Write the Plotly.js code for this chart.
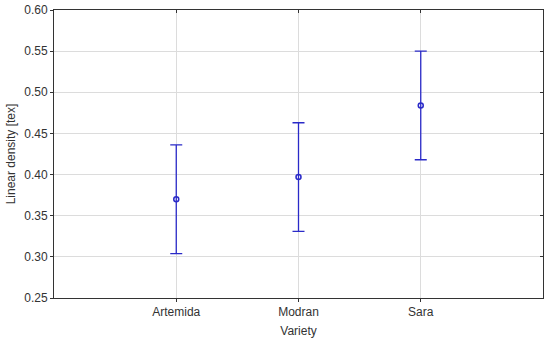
<!DOCTYPE html>
<html>
<head>
<meta charset="utf-8">
<script src="https://cdn.plot.ly/plotly-3.0.1.min.js"></script>
<style>html,body{margin:0;padding:0;background:#fff;}#chart{width:550px;height:342px;}</style>
</head>
<body>
<div id="chart"></div>
<script>
const categories = ["Artemida", "Modran", "Sara"];
const means = [0.370, 0.397, 0.484];
const errors = [0.066, 0.066, 0.066];
const yTicks = [0.25, 0.30, 0.35, 0.40, 0.45, 0.50, 0.55, 0.60];
const yTickLabels = ["0.25", "0.30", "0.35", "0.40", "0.45", "0.50", "0.55", "0.60"];

const trace = {
  x: categories,
  y: means,
  type: "scatter",
  mode: "markers",
  marker: {symbol: "circle-open", size: 5, color: "#2a2ac8", line: {width: 1.5, color: "#2a2ac8"}},
  error_y: {type: "data", array: errors, visible: true, color: "#2a2ac8", thickness: 1.3, width: 6},
  showlegend: false
};

const frame = "#333";
const layout = {
  width: 550, height: 342,
  margin: {l: 54, r: 7, t: 10, b: 44},
  paper_bgcolor: "#fff", plot_bgcolor: "#fff",
  font: {family: "Liberation Sans, Arial, sans-serif", size: 12, color: "#333"},
  xaxis: {
    type: "category", range: [-1, 3],
    showgrid: true, gridcolor: "#dcdcdc", gridwidth: 1,
    showline: true, linecolor: frame, linewidth: 1, mirror: true,
    ticks: "outside", ticklen: 3, tickcolor: frame,
    zeroline: false,
    tickfont: {size: 12, color: "#333"},
    title: {text: "Variety", font: {size: 12, color: "#333"}, standoff: 8}
  },
  yaxis: {
    range: [0.25, 0.60],
    tickvals: yTicks, ticktext: yTickLabels,
    showgrid: true, gridcolor: "#dcdcdc", gridwidth: 1,
    showline: true, linecolor: frame, linewidth: 1, mirror: true,
    ticks: "outside", ticklen: 3, tickcolor: frame,
    zeroline: false,
    tickfont: {size: 12, color: "#333"},
    title: {text: "Linear density [tex]", font: {size: 12, color: "#333"}, standoff: 6}
  },
  xaxis2: {
    type: "category", overlaying: "x", side: "top", matches: "x",
    categoryarray: categories, range: [-1, 3],
    showgrid: false, showline: false, zeroline: false,
    ticks: "inside", ticklen: 3, tickcolor: frame, showticklabels: false
  },
  yaxis2: {
    overlaying: "y", side: "right", range: [0.25, 0.60],
    tickvals: yTicks, showgrid: false, showline: false, zeroline: false,
    ticks: "inside", ticklen: 3, tickcolor: frame, showticklabels: false
  }
};

const tickTrace = {x: categories, y: means, xaxis: "x2", yaxis: "y2", type: "scatter", mode: "none", showlegend: false, hoverinfo: "skip"};

Plotly.newPlot("chart", [trace, tickTrace], layout, {displayModeBar: false, staticPlot: true});
</script>
</body>
</html>
